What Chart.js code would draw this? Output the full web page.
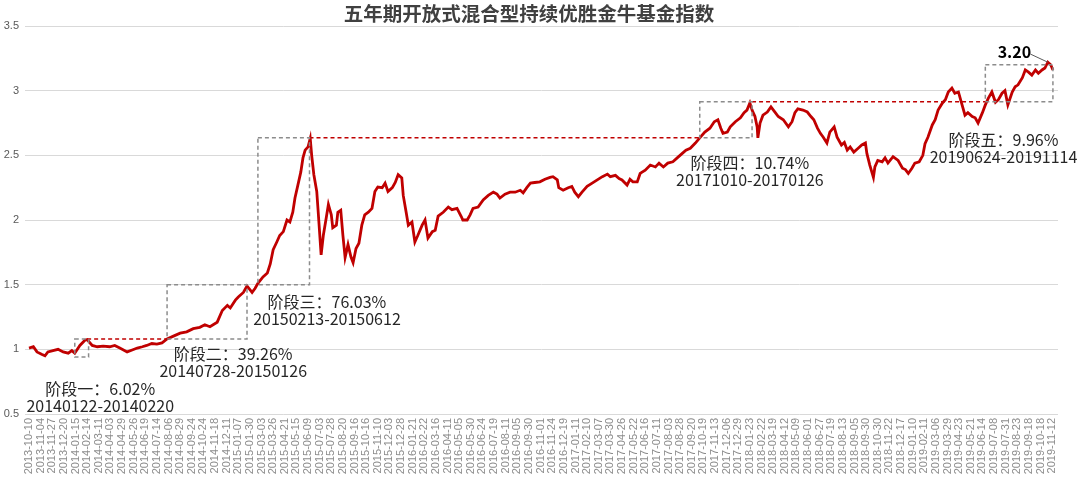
<!DOCTYPE html>
<html><head><meta charset="utf-8">
<script src="https://cdn.jsdelivr.net/npm/chart.js@4/dist/chart.umd.min.js"></script>
<style>html,body{margin:0;padding:0;background:#fff}#wrap{width:1080px;height:482px;position:relative}</style>
</head><body><div id="wrap"><canvas id="c"></canvas></div>
<script>
// ---- axis labels (one every 16 trading days) ----
const tickDates = ['2013-10-10','2013-11-04','2013-11-27','2013-12-20','2014-01-15','2014-02-14','2014-03-11','2014-04-03','2014-04-29','2014-05-26','2014-06-19','2014-07-14','2014-08-06','2014-08-29','2014-09-24','2014-10-24','2014-11-18','2014-12-11','2015-01-07','2015-01-30','2015-03-03','2015-03-26','2015-04-21','2015-05-15','2015-06-09','2015-07-03','2015-07-28','2015-08-20','2015-09-16','2015-10-16','2015-11-10','2015-12-03','2015-12-28','2016-01-21','2016-02-22','2016-03-16','2016-04-11','2016-05-05','2016-05-30','2016-06-24','2016-07-19','2016-08-11','2016-09-05','2016-09-30','2016-11-01','2016-11-24','2016-12-19','2017-01-11','2017-02-10','2017-03-07','2017-03-30','2017-04-26','2017-05-22','2017-06-16','2017-07-11','2017-08-03','2017-08-28','2017-09-20','2017-10-19','2017-11-13','2017-12-06','2017-12-29','2018-01-23','2018-02-22','2018-03-19','2018-04-12','2018-05-09','2018-06-01','2018-06-27','2018-07-19','2018-08-13','2018-09-05','2018-09-30','2018-10-30','2018-11-22','2018-12-17','2019-01-10','2019-02-11','2019-03-06','2019-03-29','2019-04-23','2019-05-21','2019-06-14','2019-07-08','2019-07-31','2019-08-23','2019-09-18','2019-10-18','2019-11-12'];
const TICK_STEP = 16;
const yTicks = [0.5, 1, 1.5, 2, 2.5, 3, 3.5];
const yTickLabels = ['0.5', '1', '1.5', '2', '2.5', '3', '3.5'];

// ---- index series (trading-day index, value) ----
const dayIndex = [0,6,11,18,22,26,33,40,47,54,59,63,70,77,80,87,94,102,111,118,125,135,142,149,156,162,169,176,183,190,198,208,217,226,235,242,249,259,266,273,277,284,288,295,300,307,311,315,322,328,332,336,341,345,350,355,359,363,366,370,374,377,380,384,387,389,392,396,398,402,405,409,412,416,418,423,425,429,432,435,439,443,446,450,454,458,462,467,472,476,480,486,490,494,500,504,508,513,515,519,522,527,531,535,541,545,549,555,559,563,570,577,582,589,595,597,603,607,611,618,625,632,639,644,648,655,662,669,676,680,685,690,696,703,710,717,721,727,729,735,742,747,751,756,761,768,775,782,789,796,800,807,812,816,823,827,831,837,841,848,855,862,867,873,879,886,892,899,904,910,917,923,930,937,943,948,952,955,961,965,972,979,984,988,992,995,999,1002,1003,1006,1010,1016,1021,1027,1031,1038,1045,1050,1054,1058,1065,1071,1076,1080,1085,1089,1093,1098,1102,1108,1112,1118,1122,1126,1130,1135,1141,1146,1151,1153,1157,1162,1164,1168,1174,1178,1182,1189,1196,1202,1206,1210,1215,1219,1225,1230,1233,1237,1243,1247,1251,1257,1261,1265,1270,1274,1279,1284,1288,1292,1298,1302,1306,1312,1316,1320,1325,1330,1334,1339,1343,1347,1353,1357,1361,1367,1371,1375,1380,1385,1389,1394,1398,1402,1406,1409];
const indexValue = [1.01,1.02,0.98,0.96,0.95,0.98,0.99,1.00,0.98,0.97,0.99,0.97,1.03,1.07,1.075,1.03,1.02,1.025,1.02,1.03,1.01,0.98,0.995,1.01,1.02,1.03,1.045,1.04,1.05,1.08,1.10,1.125,1.135,1.16,1.17,1.19,1.175,1.21,1.30,1.34,1.32,1.38,1.405,1.44,1.49,1.44,1.47,1.51,1.56,1.59,1.66,1.77,1.83,1.88,1.91,2.00,1.985,2.06,2.17,2.27,2.37,2.48,2.54,2.565,2.63,2.50,2.35,2.22,2.06,1.73,1.88,2.015,2.12,2.04,1.94,1.96,2.06,2.075,1.88,1.71,1.81,1.715,1.67,1.78,1.82,1.96,2.04,2.06,2.09,2.22,2.255,2.25,2.285,2.22,2.25,2.29,2.35,2.325,2.19,2.06,1.96,1.985,1.83,1.88,1.96,2.00,1.86,1.91,1.92,2.03,2.06,2.10,2.08,2.09,2.025,2.00,2.00,2.04,2.09,2.10,2.155,2.19,2.215,2.20,2.17,2.20,2.215,2.215,2.23,2.21,2.25,2.285,2.29,2.295,2.315,2.33,2.335,2.31,2.25,2.23,2.25,2.26,2.215,2.18,2.215,2.26,2.285,2.31,2.335,2.355,2.335,2.345,2.32,2.31,2.27,2.315,2.295,2.295,2.36,2.385,2.425,2.41,2.44,2.41,2.44,2.45,2.48,2.515,2.54,2.555,2.595,2.635,2.68,2.71,2.76,2.775,2.71,2.67,2.68,2.72,2.76,2.79,2.83,2.85,2.905,2.85,2.80,2.72,2.635,2.75,2.81,2.835,2.875,2.83,2.80,2.775,2.72,2.76,2.83,2.86,2.85,2.835,2.80,2.775,2.71,2.67,2.64,2.595,2.68,2.72,2.64,2.58,2.60,2.54,2.565,2.525,2.555,2.58,2.595,2.515,2.425,2.33,2.41,2.46,2.45,2.48,2.44,2.49,2.46,2.40,2.39,2.36,2.40,2.44,2.45,2.50,2.59,2.64,2.735,2.775,2.85,2.905,2.93,2.99,3.02,2.98,2.99,2.89,2.81,2.83,2.80,2.79,2.75,2.83,2.89,2.94,2.99,2.91,2.93,2.98,3.00,2.89,2.99,3.03,3.045,3.10,3.16,3.145,3.12,3.16,3.135,3.16,3.175,3.22,3.20,3.16];

// ---- stage annotations ----
const stageNames   = ['阶段一：6.02%','阶段二：39.26%','阶段三：76.03%','阶段四：10.74%','阶段五：9.96%'];
const stagePeriods = ['20140122-20140220','20140728-20150126','20150213-20150612','20171010-20170126','20190624-20191114'];
const stageStart = [63, 190, 315, 923, 1316];
const stageEnd   = [82, 300, 386, 995, 1409];
const stageLow   = [0.94, 1.08, 1.50, 2.635, 2.915];
const stageHigh  = [1.08, 1.50, 2.635, 2.915, 3.20];
const labelDay   = [98, 281, 410, 992, 1341];
const labelValue = [0.693, 0.964, 1.366, 2.441, 2.619];
// previous-high dashed lines
const ceilFromDay = [80, 386, 995];
const ceilToDay   = [190, 923, 1316];
const ceilValue   = [1.08, 2.635, 2.915];
// last value call-out
const lastText = '3.20';
const lastTextDay = 1356, lastTextValue = 3.30;
const leaderFrom = [1378, 3.283];
const leaderTo   = [1402, 3.22];

const stagePlugin = {
  id: 'stages',
  afterDatasetsDraw(chart) {
    const {ctx, scales: {x, y}} = chart;
    ctx.save();
    ctx.lineWidth = 1.5;
    ctx.setLineDash([4, 3]);
    ctx.strokeStyle = '#C00000';
    for (let i = 0; i < ceilValue.length; i++) {
      const py = y.getPixelForValue(ceilValue[i]);
      ctx.beginPath();
      ctx.moveTo(x.getPixelForValue(ceilFromDay[i]), py);
      ctx.lineTo(x.getPixelForValue(ceilToDay[i]), py);
      ctx.stroke();
    }
    ctx.strokeStyle = '#8c8c8c';
    for (let i = 0; i < stageStart.length; i++) {
      const x0 = x.getPixelForValue(stageStart[i]), x1 = x.getPixelForValue(stageEnd[i]);
      const y0 = y.getPixelForValue(stageHigh[i]), y1 = y.getPixelForValue(stageLow[i]);
      ctx.strokeRect(x0, y0, x1 - x0, y1 - y0);
    }
    ctx.setLineDash([]);
    ctx.fillStyle = '#262626';
    ctx.textAlign = 'center';
    ctx.textBaseline = 'middle';
    ctx.font = '16px "Noto Sans CJK SC", sans-serif';
    for (let i = 0; i < stageNames.length; i++) {
      const px = x.getPixelForValue(labelDay[i]);
      const py = y.getPixelForValue(labelValue[i]);
      ctx.fillText(stageNames[i], px, py);
      ctx.fillText(stagePeriods[i], px, py + 17);
    }
    ctx.font = 'bold 16px "Noto Sans CJK SC", sans-serif';
    ctx.fillStyle = '#000';
    ctx.fillText(lastText, x.getPixelForValue(lastTextDay), y.getPixelForValue(lastTextValue));
    ctx.strokeStyle = '#595959';
    ctx.lineWidth = 1;
    ctx.beginPath();
    ctx.moveTo(x.getPixelForValue(leaderFrom[0]), y.getPixelForValue(leaderFrom[1]));
    ctx.lineTo(x.getPixelForValue(leaderTo[0]), y.getPixelForValue(leaderTo[1]));
    ctx.stroke();
    ctx.restore();
  }
};

new Chart(document.getElementById('c'), {
  type: 'line',
  data: {
    datasets: [{
      data: dayIndex.map((d, i) => ({x: d, y: indexValue[i]})),
      borderColor: '#C00000',
      borderWidth: 2.8,
      pointRadius: 0,
      tension: 0,
      fill: false,
      borderJoinStyle: 'miter'
    }]
  },
  options: {
    responsive: true,
    maintainAspectRatio: false,
    animation: false,
    layout: {padding: {left: 0, right: 22, top: 0, bottom: 0}},
    plugins: {
      legend: {display: false},
      tooltip: {enabled: false},
      title: {
        display: true,
        text: '五年期开放式混合型持续优胜金牛基金指数',
        color: '#404040',
        font: {family: '"Noto Sans CJK SC"', size: 19.5, weight: 'bold', lineHeight: 1},
        padding: {top: 3.5, bottom: 3}
      }
    },
    scales: {
      x: {
        type: 'linear',
        min: -5.5,
        max: 1416,
        grid: {display: false, drawTicks: false},
        border: {display: false},
        afterBuildTicks: (s) => { s.ticks = tickDates.map((_, i) => ({value: i * TICK_STEP})); },
        afterFit: (s) => { s.height = 68; },
        ticks: {
          autoSkip: false,
          minRotation: 90,
          maxRotation: 90,
          padding: 4,
          color: '#8c8c8c',
          font: {family: '"Liberation Sans", Arial', size: 11},
          callback: (v) => tickDates[Math.round(v / TICK_STEP)]
        }
      },
      y: {
        min: 0.5,
        max: 3.5,
        afterBuildTicks: (s) => { s.ticks = yTicks.map(v => ({value: v})); },
        afterFit: (s) => { s.width = 25; },
        grid: {color: '#d9d9d9', lineWidth: 1, drawTicks: false},
        border: {display: false},
        ticks: {
          padding: 6,
          color: '#595959',
          font: {family: '"Liberation Sans", Arial', size: 11},
          callback: (v) => yTickLabels[yTicks.indexOf(v)]
        }
      }
    }
  },
  plugins: [stagePlugin]
});
</script></body></html>
